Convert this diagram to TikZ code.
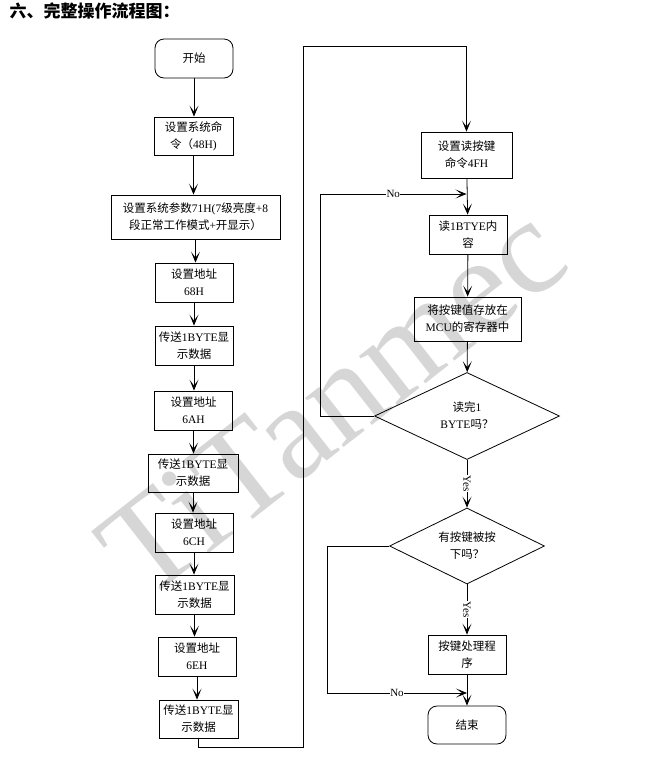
\documentclass[tikz,border=0pt]{standalone}
\usepackage{fontspec}
\setmainfont{Liberation Serif}
\newfontfamily\cjk{Noto Sans CJK SC}
\usetikzlibrary{arrows.meta,shapes.geometric}
\newcommand{\zh}[1]{{\cjk #1}}
\tikzset{
  stepbox/.style={draw,line width=0.8pt,align=center,inner sep=0pt,
    minimum width=78pt,minimum height=39pt,font=\fontsize{11.5}{17}\selectfont},
  termbox/.style={stepbox,rounded corners=9pt},
  decide/.style={diamond,draw,line width=0.8pt,align=center,inner sep=0pt,
    aspect=2,font=\fontsize{11.5}{17}\selectfont},
  flow/.style={line width=0.8pt,-{Stealth[length=11pt,width=9pt,inset=6pt]}},
  yesno/.style={fill=white,inner sep=0.5pt,font=\fontsize{11}{13}\selectfont}
}

\begin{document}
\begin{tikzpicture}[x=1pt,y=-1pt]
  \useasboundingbox (0,0) rectangle (662,769);
  \node[rotate=38,anchor=base west,text=gray!32,
    font=\fontsize{136}{136}\selectfont] (mark) at (142,606) {TiTanmec};
  \node[anchor=west,font=\fontsize{17}{19}\selectfont\cjk\bfseries] (title)
    at (6,11) {六、完整操作流程图：};

  \node[termbox] (start) at (194,58.5) {\zh{开始}};
  \node[stepbox,minimum width=79pt,minimum height=38pt] (b2) at (193.5,136)
    {\zh{设置系统命}\\\zh{令（}48H)};
  \node[stepbox,minimum width=169pt,minimum height=44pt] (b3) at (195.5,217)
    {\zh{设置系统参数}71H(7\zh{级亮度}+8\\\zh{段正常工作模式}+\zh{开显示）}};
  \node[stepbox] (b4) at (194,282.5) {\zh{设置地址}\\68H};
  \node[stepbox] (b5) at (194,345.5) {\zh{传送}1BYTE\zh{显}\\\zh{示数据}};
  \node[stepbox] (b6) at (193.5,410.5) {\zh{设置地址}\\6AH};
  \node[stepbox,minimum width=90pt,minimum height=38pt] (b7) at (193,473)
    {\zh{传送}1BYTE\zh{显}\\\zh{示数据}};
  \node[stepbox] (b8) at (194,532.5) {\zh{设置地址}\\6CH};
  \node[stepbox,minimum width=79pt] (b9) at (194.5,594.5)
    {\zh{传送}1BYTE\zh{显}\\\zh{示数据}};
  \node[stepbox] (b10) at (197,656.5) {\zh{设置地址}\\6EH};
  \node[stepbox,minimum width=79pt,minimum height=38pt] (b11) at (198.5,719)
    {\zh{传送}1BYTE\zh{显}\\\zh{示数据}};

  \node[stepbox,minimum width=91pt,minimum height=46pt] (r1) at (466.5,155)
    {\zh{设置读按键}\\\zh{命令}4FH};
  \node[stepbox] (r2) at (468,234.5) {\zh{读}1BTYE\zh{内}\\\zh{容}};
  \node[stepbox,minimum width=107pt,minimum height=44pt] (r3) at (467.5,319)
    {\zh{将按键值存放在}\\MCU\zh{的寄存器中}};
  \node[decide,minimum width=185pt,minimum height=87pt] (d1) at (467,416)
    {\zh{读完}1\\BYTE\zh{吗？}};
  \node[decide,minimum width=155pt,minimum height=76pt] (d2) at (467,546)
    {\zh{有按键被按}\\\zh{下吗？}};
  \node[stepbox] (r4) at (467,654.5) {\zh{按键处理程}\\\zh{序}};
  \node[termbox,minimum height=38pt] (stop) at (467,725) {\zh{结束}};

  \coordinate (loopbot) at (303,747);
  \coordinate (looptop) at (303,46);
  \coordinate (noa) at (320,194);
  \coordinate (nob) at (327,693);

  \foreach \a/\b in {start/b2,b2/b3,b3/b4,b4/b5,b5/b6,b6/b7,b7/b8,b8/b9,b9/b10,b10/b11}
    \draw[flow] (\a.south) -- (\a.south |- \b.north);
  \draw[flow] (b11.south) |- (loopbot) -- (looptop) -| (r1.north);

  \draw[flow] (r1) -- (r2);
  \draw[flow] (r2) -- (r3);
  \draw[flow] (r3) -- (d1);
  \draw[flow] (d1.west) -| (noa) -- node[yesno]{No} (r1.south |- noa);
  \draw[flow] (d1) -- node[yesno,rotate=-90]{Yes} (d2);
  \draw[flow] (d2) -- node[yesno,rotate=-90]{Yes} (r4);
  \draw[flow] (r4) -- (stop);
  \draw[flow] (d2.west) -| (nob) -- node[yesno]{No} (stop.north |- nob);
\end{tikzpicture}
\end{document}
